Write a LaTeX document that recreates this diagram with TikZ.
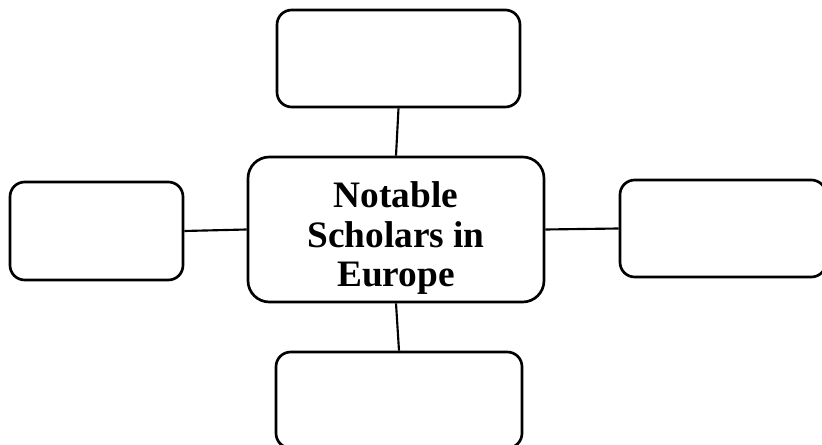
\documentclass[tikz,border=0pt]{standalone}
\usepackage{fontspec}
\setmainfont{Liberation Serif}
\usepackage{tikz}
\usetikzlibrary{positioning}
\tikzset{
    box/.style={draw, line width=2pt, rounded corners=11pt, inner sep=0pt},
    link/.style={line width=1.6pt},
    title/.style={align=center, font=\fontsize{28}{29.5}\selectfont\bfseries, yshift=-6.5pt},
}

\begin{document}
\begin{tikzpicture}[x=0.75pt, y=-0.75pt]
    \useasboundingbox (0,0) rectangle (822,445);
    \clip (0,0) rectangle (822,445);
    % central box
    \node[box, rounded corners=16pt, minimum width=222pt, minimum height=108.75pt,
          label={[title]center:Notable\\Scholars in\\Europe}] (hub) at (396,229.5) {};
    % outer boxes
    \node[box, minimum width=182.25pt, minimum height=72.75pt] (N) at (398.5,58.5) {};
    \node[box, minimum width=129.75pt, minimum height=73.5pt] (W) at (96.5,231) {};
    \node[box, minimum width=154.5pt, minimum height=72.75pt] (E) at (723,228.5) {};
    \node[box, minimum width=184.5pt, minimum height=72pt] (S) at (399,400) {};
    % connectors
    \draw[link] (N.south) -- (hub.north);
    \draw[link] (W.east) -- (hub.west);
    \draw[link] (hub.east) -- (E.west);
    \draw[link] (hub.south) -- (S.north);
\end{tikzpicture}
\end{document}
